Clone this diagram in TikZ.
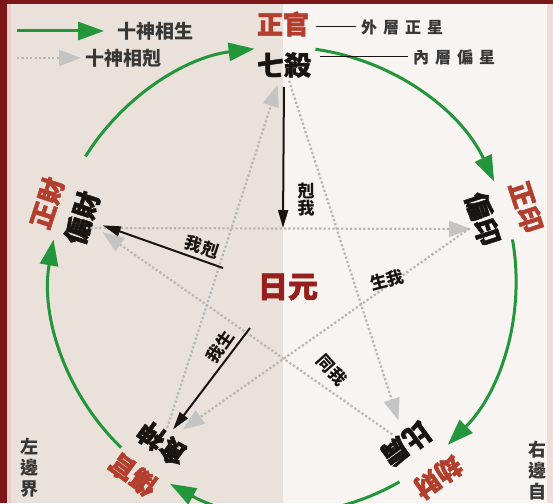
\documentclass[tikz,border=0pt]{standalone}
\usepackage{fontspec}
\newfontfamily\cjk{Noto Sans CJK TC}
\newfontfamily\cjkh{Noto Sans CJK TC}[FakeBold=1.6]
\usetikzlibrary{arrows.meta,calc}
\definecolor{framered}{RGB}{125,22,22}
\definecolor{framepink}{RGB}{236,205,200}
\definecolor{bgL}{RGB}{234,226,218}
\definecolor{bgR}{RGB}{247,244,241}
\definecolor{grn}{RGB}{35,150,60}
\definecolor{outerred}{RGB}{180,62,45}
\definecolor{yuanred}{RGB}{150,30,28}
\definecolor{dotgray}{RGB}{182,182,182}
\definecolor{tipgray}{RGB}{196,196,196}
\definecolor{ink}{RGB}{24,20,18}
\definecolor{legendink}{RGB}{55,55,55}
\tikzset{
  innerlab/.style={font=\cjkh\bfseries\fontsize{27}{27}\selectfont, text=ink, inner sep=1pt},
  outerlab/.style={font=\cjkh\bfseries\fontsize{26}{26}\selectfont, text=outerred, inner sep=1pt},
  smalllab/.style={font=\cjk\bfseries\fontsize{17}{19}\selectfont, text=ink, inner sep=0.5pt, align=center},
  legendlab/.style={font=\cjk\bfseries\fontsize{19}{19}\selectfont, text=legendink, inner sep=1pt},
  notelab/.style={font=\cjk\bfseries\fontsize{16}{16}\selectfont, text=legendink, inner sep=1pt},
  sidelab/.style={font=\cjk\bfseries\fontsize{18}{21}\selectfont, text=legendink, inner sep=1pt, align=center},
  garrow/.style={draw=grn, line width=3pt, -{Triangle[length=26pt,width=18pt]}, color=grn},
  darrow/.style={draw=dotgray, line width=2.2pt, dash pattern=on 2.2pt off 2.2pt,
     -{Triangle[length=22pt,width=16pt,fill=tipgray,color=tipgray]}},
  barrow/.style={draw=ink, line width=2pt, -{Triangle[length=18pt,width=10pt]}},
  thinline/.style={draw=ink, line width=1pt}
}
\begin{document}
\begin{tikzpicture}[x=1pt,y=1pt]
\useasboundingbox (0,0) rectangle (553,503);
% background
\fill[bgR] (0,0) rectangle (553,503);
\fill[bgL] (0,0) rectangle (283,503);
\fill[framepink] (7,0) rectangle (11,503);
\fill[framepink!60!bgR] (547,0) rectangle (553,503);
\fill[framered] (0,0) rectangle (7,503);
\fill[framered] (0,499) rectangle (553,503);

\coordinate (C) at (283,223);

% inner labels
\node[innerlab] (qs) at (284,438) {七殺};
\node[innerlab, rotate=-72] (py) at (483,284) {偏印};
\node[innerlab, rotate=-144] (bj) at (406,59) {比肩};
\node[innerlab, rotate=144] (ss) at (162,59) {食神};
\node[innerlab, rotate=72] (pc) at (82,285) {偏財};

% outer labels
\node[outerlab] (zg) at (283,479) {正官};
\node[outerlab, rotate=-72] (zy) at (526,296) {正印};
\node[outerlab, rotate=-144] (jc) at (438,26) {劫財};
\node[outerlab, rotate=144] (sg) at (133,28) {傷官};
\node[outerlab, rotate=72] (zc) at (47,300) {正財};

% centre
\node[font=\cjkh\bfseries\fontsize{30}{30}\selectfont, text=yuanred] (ry) at (288,216) {日元};

% green generating cycle (arcs)
\coordinate (g1) at ($(C)+(82:233)$);
\coordinate (g2) at ($(C)+(10:233)$);
\coordinate (g3) at ($(C)+(-60:233)$);
\coordinate (g4) at ($(C)+(-134:233)$);
\coordinate (g5) at ($(C)+(148:233)$);
\draw[garrow] (g1) arc[start angle=82, end angle=25, radius=233];
\draw[garrow] (g2) arc[start angle=10, end angle=-45, radius=233];
\draw[garrow] (g3) arc[start angle=-60, end angle=-119, radius=233];
\draw[garrow] (g4) arc[start angle=-134, end angle=-190, radius=233];
\draw[garrow] (g5) arc[start angle=148, end angle=97, radius=233];

% grey controlling star
\draw[darrow, shorten <=4pt, shorten >=12pt] ([yshift=-10pt]pc.center) -- ([yshift=-10pt]py.center);
\draw[darrow, shorten <=2pt, shorten >=6pt] (ss) -- (qs);
\draw[darrow, shorten <=2pt, shorten >=10pt] (qs) -- (bj);
\draw[darrow, shorten <=2pt, shorten >=10pt] (py) -- (ss);
\draw[darrow, shorten <=2pt, shorten >=10pt] (bj) -- (pc);

% black relation arrows
\coordinate (kw) at (283,275);
\coordinate (wk) at (223,235);
\coordinate (ws) at (250,175);
\draw[barrow, shorten <=8pt] (qs.south) -- (kw);
\draw[barrow, shorten >=8pt] (wk) -- (pc);
\draw[barrow, shorten >=4pt] (ws) -- (ss);

\node[smalllab] (lkw) at (306,303) {剋\\[-2pt]我};
\node[smalllab, rotate=-18] (lwk) at (202,256) {我剋};
\node[smalllab, rotate=55] (lws) at (220,156) {我生};
\node[smalllab, rotate=15] (lsw) at (387,223) {生我};
\node[smalllab, rotate=-48] (ltw) at (332,133) {同我};

% legend
\coordinate (lg1) at (17,472);
\coordinate (lg2) at (104,472);
\coordinate (lg3) at (17,445);
\coordinate (lg4) at (81,445);
\draw[garrow] (lg1) -- (lg2);
\draw[darrow] (lg3) -- (lg4);
\node[legendlab, anchor=west] (lgt1) at (116,472) {十神相生};
\node[legendlab, anchor=west] (lgt2) at (84,445) {十神相剋};

% notes
\node[notelab, anchor=west] (wc) at (360,476) {外\kern6pt層\kern6pt正\kern6pt星};
\node[notelab, anchor=west] (nc) at (412,446) {內\kern6pt層\kern6pt偏\kern6pt星};
\draw[thinline, shorten <=6pt, shorten >=4pt] (zg.east |- wc.west) -- (wc.west);
\draw[thinline, shorten <=8pt, shorten >=4pt] (qs.east |- nc.west) -- (nc.west);

% side texts
\node[sidelab, anchor=north] (lb) at (29,66) {左\\邊\\界};
\node[sidelab, anchor=north] (rb) at (537,63) {右\\邊\\自};
\end{tikzpicture}
\end{document}
